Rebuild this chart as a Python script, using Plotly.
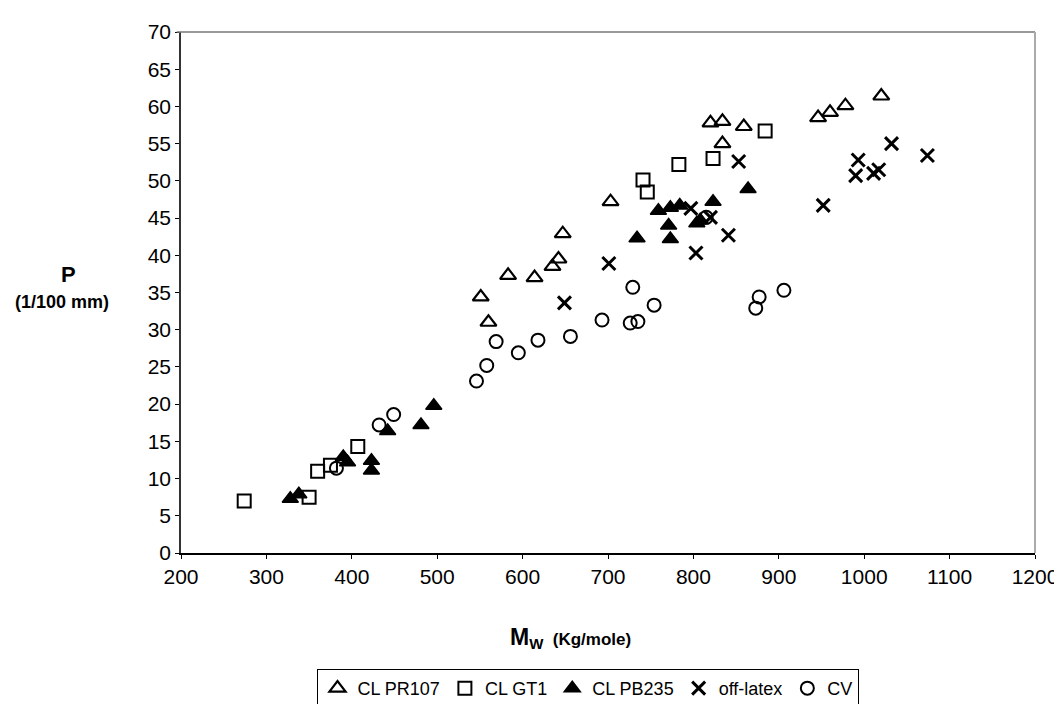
import plotly.graph_objects as go

# CL PR107 (open triangles)
pr107_mw = [551, 560, 583, 614, 635, 642, 647, 703, 820, 834, 834, 859, 946, 960, 978, 1020]
pr107_p = [34.4, 31.0, 37.3, 37.0, 38.5, 39.5, 42.9, 47.2, 57.8, 58.0, 55.0, 57.3, 58.5, 59.2, 60.1, 61.4]

# CL GT1 (open squares)
gt1_mw = [274, 350, 360, 375, 407, 741, 746, 783, 823, 884]
gt1_p = [7.0, 7.5, 11.0, 11.8, 14.3, 50.1, 48.5, 52.2, 53.0, 56.7]

# CL PB235 (filled triangles)
pb235_mw = [328, 338, 390, 395, 423, 423, 442, 481, 496, 734, 759, 771, 773, 773, 784, 804, 808, 823, 864]
pb235_p = [7.3, 7.9, 12.9, 12.2, 12.4, 11.1, 16.4, 17.2, 19.8, 42.3, 46.0, 44.0, 46.4, 42.2, 46.7, 44.3, 44.7, 47.2, 48.9]

# off-latex (crosses)
off_mw = [649, 701, 797, 803, 820, 841, 853, 952, 990, 993, 1011, 1017, 1032, 1074]
off_p = [33.6, 38.9, 46.3, 40.3, 45.1, 42.7, 52.6, 46.7, 50.7, 52.8, 51.0, 51.5, 55.0, 53.4]

# CV (open circles)
cv_mw = [382, 432, 449, 546, 558, 569, 595, 618, 656, 693, 726, 735, 729, 754, 815, 873, 877, 906]
cv_p = [11.4, 17.2, 18.6, 23.1, 25.2, 28.4, 26.9, 28.6, 29.1, 31.3, 30.9, 31.1, 35.7, 33.3, 45.1, 32.9, 34.4, 35.3]

FONT = "Liberation Sans, Arial, sans-serif"

series = [
    ("CL PR107", pr107_mw, pr107_p, "triangle-up-open", 14, 2.2),
    ("CL GT1", gt1_mw, gt1_p, "square-open", 13, 2),
    ("CL PB235", pb235_mw, pb235_p, "triangle-up", 14, 1.5),
    ("off-latex", off_mw, off_p, "x-thin-open", 13, 3),
    ("CV", cv_mw, cv_p, "circle-open", 13, 2),
]

fig = go.Figure()
for name, xs, ys, sym, size, lw in series:
    fig.add_trace(
        go.Scatter(
            x=xs,
            y=ys,
            mode="markers",
            name=name,
            marker=dict(symbol=sym, size=size, color="black", line=dict(color="black", width=lw)),
        )
    )

# frame: top and right borders
fig.add_shape(type="line", xref="paper", yref="paper", x0=-0.005, x1=1, y0=1, y1=1,
              line=dict(color="#777777", width=1.5))
fig.add_shape(type="line", xref="paper", yref="paper", x0=1, x1=1, y0=0, y1=1,
              line=dict(color="#aaaaaa", width=2))

fig.add_annotation(
    xref="paper", yref="paper", x=-0.132, y=0.534, xanchor="center", yanchor="middle",
    text="<b>P</b>", showarrow=False, font=dict(family=FONT, size=22, color="black"),
)
fig.add_annotation(
    xref="paper", yref="paper", x=-0.139, y=0.481, xanchor="center", yanchor="middle",
    text="<b>(1/100 mm)</b>", showarrow=False, font=dict(family=FONT, size=18, color="black"),
)
fig.add_annotation(
    xref="paper", yref="paper", x=0.456, y=-0.164, xanchor="center", yanchor="middle",
    text="<b><span style='font-size:23px'>M</span><sub><span style='font-size:15px'>W</span></sub></b>"
         "  <b><span style='font-size:17px'>(Kg/mole)</span></b>",
    showarrow=False, font=dict(family=FONT, size=17, color="black"),
)

fig.update_xaxes(
    range=[200, 1200], dtick=100, showgrid=False, zeroline=False,
    showline=True, linecolor="black", linewidth=1.5,
    ticks="outside", ticklen=4, tickcolor="black",
    tickfont=dict(family=FONT, size=21, color="black"),
)
fig.update_yaxes(
    range=[0, 70], dtick=5, showgrid=False, zeroline=False,
    showline=True, linecolor="#333333", linewidth=1.5,
    ticks="outside", ticklen=4, tickcolor="black",
    tickfont=dict(family=FONT, size=21, color="black"),
)

# the page body shifts the figure by 8px; the taller figure keeps the legend
# from pushing the bottom margin
fig.update_layout(
    width=1062,
    height=730,
    margin=dict(l=173, r=33, t=15, b=185),
    plot_bgcolor="white",
    paper_bgcolor="white",
    showlegend=True,
    legend=dict(
        orientation="h", x=0.476, xanchor="center", y=-0.2226, yanchor="top",
        bordercolor="black", borderwidth=1, itemwidth=30,
        font=dict(family=FONT, size=18, color="black"),
        tracegroupgap=0,
    ),
)

fig.write_html("out.html")
